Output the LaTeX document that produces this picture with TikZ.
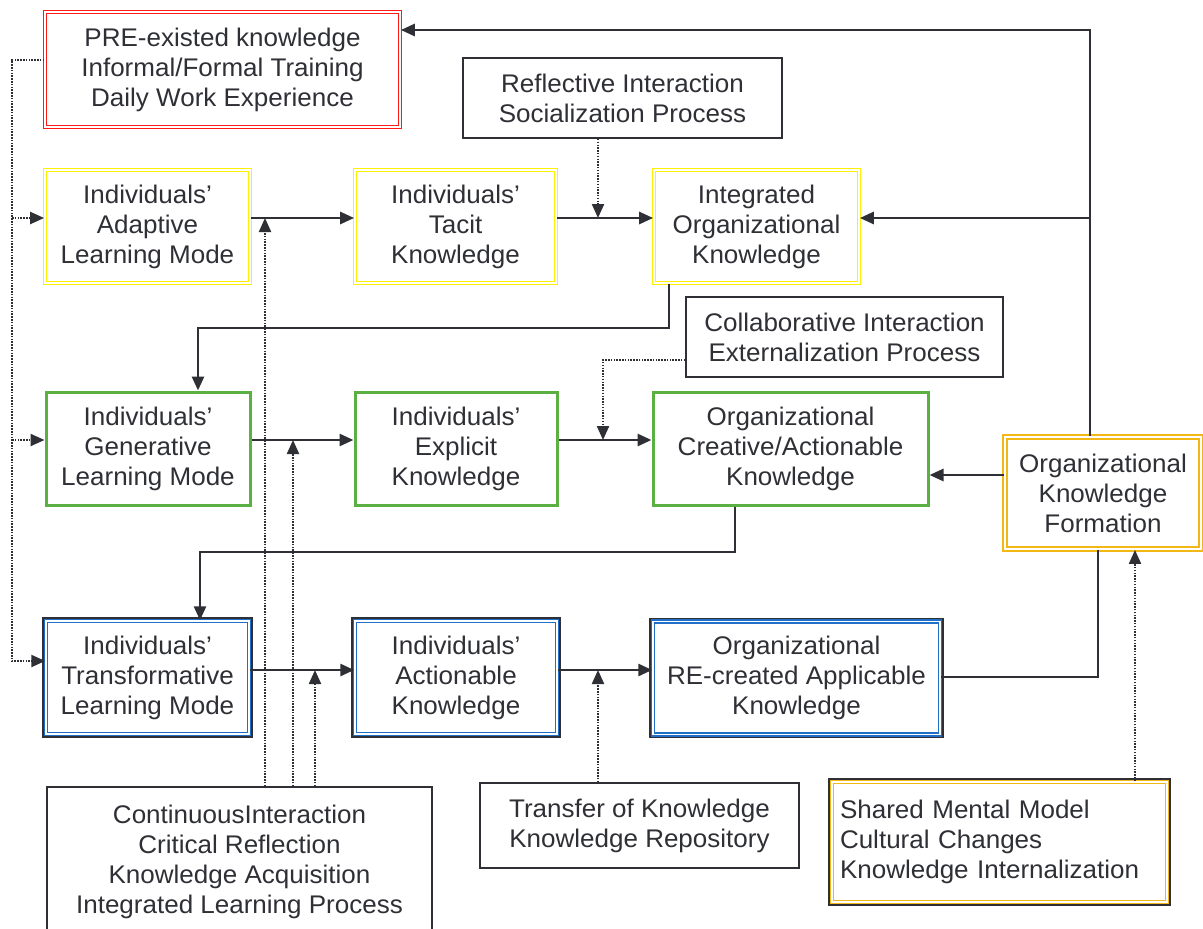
\documentclass[tikz,border=0pt]{standalone}
\usepackage{fontspec}
\setmainfont{Liberation Sans}[FakeStretch=1.02]
\usetikzlibrary{arrows.meta}
\definecolor{ink}{HTML}{2F3036}
\definecolor{redC}{HTML}{FF1A1A}
\definecolor{yelC}{HTML}{FFF200}
\definecolor{grnC}{HTML}{5BB043}
\definecolor{bluC}{HTML}{1F6FC8}
\definecolor{golC}{HTML}{F4B816}
\begin{document}
\begin{tikzpicture}[x=1pt,y=-1pt,
  box/.style={draw=ink, line width=1.8pt, fill=white, align=center, inner sep=0pt,
    font=\fontsize{25.5}{30}\selectfont, text=ink},
  rbox/.style={box, draw=redC, double=white, double distance=1.4pt, line width=1.7pt},
  ybox/.style={box, draw=yelC, double=white, double distance=1.4pt, line width=1.7pt},
  gbox/.style={box, draw=grnC, line width=3pt},
  bbox/.style={box, draw=bluC, double=white, double distance=1.3pt, line width=1.5pt,
    preaction={draw=ink, line width=7.5pt}},
  obox/.style={box, draw=golC, double=white, double distance=1.3pt, line width=1.9pt},
  sbox/.style={box, draw=golC, double=white, double distance=1.3pt, line width=1.5pt,
    preaction={draw=ink, line width=7.5pt}},
  arr/.style={draw=ink, line width=2.8pt, -{Triangle[length=14pt,width=12pt]}},
  lin/.style={draw=ink, line width=2.8pt},
  darr/.style={draw=ink, line width=2.2pt, dash pattern=on 1.5pt off 1.3pt,
    -{Triangle[length=14pt,width=12pt]}},
]
\useasboundingbox[fill=white] (0,0) rectangle (1203,929);

% nodes
\node[rbox, minimum width=355pt, minimum height=115pt] (pre) at (222.5,69.5)
  {PRE-existed knowledge\\Informal/Formal Training\\Daily Work Experience};
\node[box, minimum width=319pt, minimum height=80pt] (refl) at (622.5,98)
  {Reflective Interaction\\Socialization Process};
\node[ybox, minimum width=205pt, minimum height=113pt] (adapt) at (147.5,226.5)
  {Individuals'\\Adaptive\\Learning Mode};
\node[ybox, minimum width=201pt, minimum height=113pt] (tacit) at (455.5,226.5)
  {Individuals'\\Tacit\\Knowledge};
\node[ybox, minimum width=205pt, minimum height=113pt] (integ) at (756.5,226.5)
  {Integrated\\Organizational\\Knowledge};
\node[box, minimum width=317pt, minimum height=80pt] (collab) at (844.5,337)
  {Collaborative Interaction\\Externalization Process};
\node[gbox, minimum width=204pt, minimum height=113pt] (gener) at (148,448.5)
  {Individuals'\\Generative\\Learning Mode};
\node[gbox, minimum width=202pt, minimum height=113pt] (expl) at (456,448.5)
  {Individuals'\\Explicit\\Knowledge};
\node[gbox, minimum width=275pt, minimum height=113pt] (orgc) at (790.5,448.5)
  {Organizational\\Creative/Actionable\\Knowledge};
\node[obox, minimum width=196pt, minimum height=112pt] (form) at (1103,493)
  {Organizational\\Knowledge\\Formation};
\node[bbox, minimum width=203pt, minimum height=113pt] (transf) at (147.5,677.5)
  {Individuals'\\Transformative\\Learning Mode};
\node[bbox, minimum width=202pt, minimum height=113pt] (action) at (456,677.5)
  {Individuals'\\Actionable\\Knowledge};
\node[bbox, minimum width=287pt, minimum height=113pt] (recr) at (796.5,678)
  {Organizational\\RE-created Applicable\\Knowledge};
\node[box, minimum width=385pt, minimum height=150pt] (cont) at (239.5,862)
  {ContinuousInteraction\\Critical Reflection\\Knowledge Acquisition\\Integrated Learning Process};
\node[box, minimum width=319pt, minimum height=85pt] (trans) at (639.5,825.5)
  {Transfer of Knowledge\\Knowledge Repository};
\node[sbox, text width=319pt, inner xsep=8pt, align=left, minimum height=120pt] (shared) at (999.5,842)
  {Shared Mental Model\\Cultural Changes\\Knowledge Internalization};

% coordinates
\coordinate (r1) at (0,218);
\coordinate (r2) at (0,440);
\coordinate (r3) at (0,670);
\coordinate (l0) at (12,60);
\coordinate (la) at (12,218);
\coordinate (lb) at (12,440);
\coordinate (lc) at (12,661);
\coordinate (d1) at (598,218);
\coordinate (c2) at (603,360);
\coordinate (d2) at (603,440);
\coordinate (d3) at (598,670);
\coordinate (e1) at (265,218);
\coordinate (e2) at (293,440);
\coordinate (e3) at (315,670);
\coordinate (k1) at (669,328);
\coordinate (k1b) at (198,328);
\coordinate (k2) at (735,552);
\coordinate (k2b) at (200,552);
\coordinate (k3) at (1098,677);
\coordinate (t1) at (1090,30);
\coordinate (t2) at (1090,218);
\coordinate (s1) at (1135,700);
\coordinate (f2) at (0,475);

% left dotted feed from PRE
\draw[darr] (pre.west |- l0) -- (l0) -- (lc) -- (transf.west |- lc);
\draw[darr] (la) -- (adapt.west |- la);
\draw[darr] (lb) -- (gener.west |- lb);

% row 1
\draw[arr] (adapt.east |- r1) -- (tacit.west |- r1);
\draw[arr] (tacit.east |- r1) -- (integ.west |- r1);
\draw[darr] (refl.south -| d1) -- (d1);

% integ -> generative
\draw[arr] (integ.south -| k1) -- (k1) -- (k1b) -- (gener.north -| k1b);

% row 2
\draw[arr] (gener.east |- r2) -- (expl.west |- r2);
\draw[arr] (expl.east |- r2) -- (orgc.west |- r2);
\draw[darr] (collab.west |- c2) -- (c2) -- (d2);
\draw[arr] (form.west |- f2) -- (orgc.east |- f2);

% orgc -> transformative
\draw[arr] (orgc.south -| k2) -- (k2) -- (k2b) -- (transf.north -| k2b);

% row 3
\draw[arr] (transf.east |- r3) -- (action.west |- r3);
\draw[arr] (action.east |- r3) -- (recr.west |- r3);
\draw[darr] (trans.north -| d3) -- (d3);
\draw[lin] (recr.east |- k3) -- (k3) -- (form.south -| k3);
\draw[darr] (shared.north -| s1) -- (form.south -| s1);

% feedback from formation
\draw[arr] (form.north -| t1) -- (t1) -- (pre.east |- t1);
\draw[arr] (t2) -- (integ.east |- t2);

% continuous interaction dotted
\draw[darr] (cont.north -| e1) -- (e1);
\draw[darr] (cont.north -| e2) -- (e2);
\draw[darr] (cont.north -| e3) -- (e3);
\end{tikzpicture}
\end{document}
